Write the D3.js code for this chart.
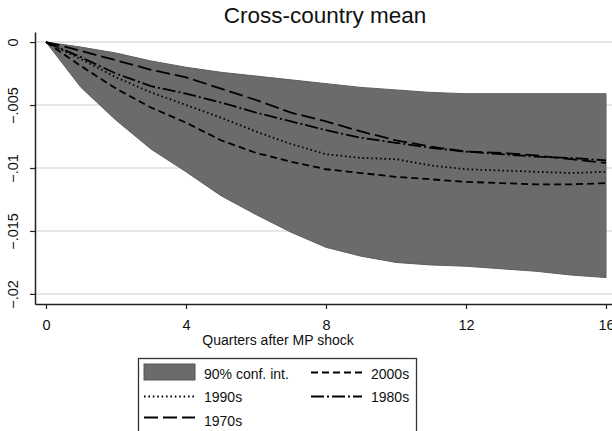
<!DOCTYPE html>
<html>
<head>
<meta charset="utf-8">
<script src="https://cdn.jsdelivr.net/npm/d3@7"></script>
<style>
  body { margin: 0; background: #fff; }
  text { font-family: Arial, "Liberation Sans", sans-serif; fill: #111; }
</style>
</head>
<body>
<div id="chart"></div>
<script>
// quarters after the shock
const quarters = [0,1,2,3,4,5,6,7,8,9,10,11,12,13,14,15,16];

// 90% confidence band of the cross-country mean
const ciUpper = [0,-0.0004,-0.00087,-0.0015,-0.002,-0.0024,-0.0027,-0.003,-0.0033,-0.0036,-0.0038,-0.0040,-0.0041,-0.0041,-0.0041,-0.0041,-0.0041];
const ciLower = [0,-0.0036,-0.0062,-0.0085,-0.0103,-0.0122,-0.0137,-0.0151,-0.0163,-0.0170,-0.0175,-0.0177,-0.0178,-0.0180,-0.0182,-0.0185,-0.0187];

// decade responses
const s1970s = [0,-0.0007,-0.00145,-0.0022,-0.0028,-0.0037,-0.0046,-0.0056,-0.0063,-0.0071,-0.0078,-0.0083,-0.0087,-0.0088,-0.0090,-0.0093,-0.0096];
const s1980s = [0,-0.0012,-0.0025,-0.0035,-0.0041,-0.0048,-0.0056,-0.0063,-0.0070,-0.0076,-0.0080,-0.0084,-0.0087,-0.0089,-0.0091,-0.0092,-0.0094];
const s1990s = [0,-0.00135,-0.0028,-0.0040,-0.0050,-0.0060,-0.0071,-0.0081,-0.0089,-0.0092,-0.0093,-0.0098,-0.0101,-0.0102,-0.0103,-0.0104,-0.0103];
const s2000s = [0,-0.0019,-0.0037,-0.0052,-0.0064,-0.0078,-0.0088,-0.0095,-0.0101,-0.0104,-0.0107,-0.0109,-0.0111,-0.0112,-0.0113,-0.0113,-0.0112];

const yTicks = [0,-0.005,-0.01,-0.015,-0.02];
const xTicks = [0,4,8,12,16];

const width = 612, height = 431;

const svg = d3.select("#chart").append("svg")
  .attr("width", width)
  .attr("height", height);

const x = d3.scaleLinear().domain([-0.3143, 17]).range([35, 641]);
const y = d3.scaleLinear().domain([0.0008, -0.0208]).range([32, 304]);

// title
svg.append("text")
  .attr("x", 325).attr("y", 23)
  .attr("text-anchor", "middle")
  .style("font-size", "22.5px")
  .text("Cross-country mean");

// gridlines
svg.append("g")
  .selectAll("line")
  .data(yTicks)
  .join("line")
  .attr("x1", 35).attr("x2", width)
  .attr("y1", d => y(d)).attr("y2", d => y(d))
  .attr("stroke", "#dedede")
  .attr("stroke-width", 1.5);

// confidence band
const band = quarters.map((q, i) => ({q: q, lo: ciLower[i], hi: ciUpper[i]}));
svg.append("path")
  .datum(band)
  .attr("d", d3.area().x(d => x(d.q)).y0(d => y(d.lo)).y1(d => y(d.hi)))
  .attr("fill", "#6b6b6b")
  .attr("stroke", "#5e5e5e")
  .attr("stroke-width", 1);

const series = [
  {name: "2000s", vals: s2000s, dash: "7,4"},
  {name: "1990s", vals: s1990s, dash: "1.6,2.8"},
  {name: "1980s", vals: s1980s, dash: "13,3,2,3"},
  {name: "1970s", vals: s1970s, dash: "14,5"}
];

const line = d3.line().x((d, i) => x(quarters[i])).y(d => y(d));

svg.append("g")
  .selectAll("path")
  .data(series)
  .join("path")
  .attr("d", d => line(d.vals))
  .attr("fill", "none")
  .attr("stroke", "#000")
  .attr("stroke-width", 1.8)
  .attr("stroke-dasharray", d => d.dash);

// y axis
const yAxis = svg.append("g")
  .attr("transform", "translate(35,0)")
  .call(d3.axisLeft(y).tickValues(yTicks).tickSize(5).tickSizeOuter(0)
    .tickFormat(d => d === 0 ? "0" : d3.format(".3~f")(d).replace("0.", ".")));
yAxis.select(".domain").attr("stroke", "#222").attr("stroke-width", 1.5);
yAxis.selectAll(".tick line").attr("stroke", "#222").attr("stroke-width", 1.2);
yAxis.selectAll(".tick text")
  .attr("transform", "rotate(-90)")
  .attr("x", 0).attr("y", -17).attr("dy", 0)
  .attr("text-anchor", "middle")
  .style("font-size", "14.5px")
  .style("font-family", "Arial, 'Liberation Sans', sans-serif")
  .attr("fill", "#111");

// x axis
const xAxis = svg.append("g")
  .attr("transform", "translate(0,304)")
  .call(d3.axisBottom(x).tickValues(xTicks).tickSize(5).tickSizeOuter(0));
xAxis.select(".domain").attr("stroke", "#222").attr("stroke-width", 1.5);
xAxis.selectAll(".tick line").attr("stroke", "#222").attr("stroke-width", 1.2);
xAxis.selectAll(".tick text")
  .attr("y", 26).attr("dy", 0)
  .style("font-size", "14.5px")
  .style("font-family", "Arial, 'Liberation Sans', sans-serif")
  .attr("fill", "#111");

svg.append("text")
  .attr("x", 278).attr("y", 345)
  .attr("text-anchor", "middle")
  .style("font-size", "14px")
  .text("Quarters after MP shock");

// legend
const legend = svg.append("g");
legend.append("rect")
  .attr("x", 138.5).attr("y", 358.5)
  .attr("width", 278).attr("height", 90)
  .attr("fill", "#fff")
  .attr("stroke", "#333")
  .attr("stroke-width", 1.3);

legend.append("rect")
  .attr("x", 144).attr("y", 364)
  .attr("width", 51).attr("height", 16)
  .attr("fill", "#6b6b6b")
  .attr("stroke", "#555")
  .attr("stroke-width", 1);
legend.append("text")
  .attr("x", 204).attr("y", 379)
  .style("font-size", "14px")
  .text("90% conf. int.");

const legendItems = [
  {s: series[0], kx: 311, ky: 372.5, tx: 371, ty: 379},
  {s: series[1], kx: 144, ky: 396.5, tx: 204, ty: 402},
  {s: series[2], kx: 311, ky: 396.5, tx: 371, ty: 402},
  {s: series[3], kx: 144, ky: 417.5, tx: 204, ty: 426}
];

const items = legend.selectAll("g.item")
  .data(legendItems)
  .join("g")
  .attr("class", "item");
items.append("line")
  .attr("x1", d => d.kx).attr("x2", d => d.kx + 51)
  .attr("y1", d => d.ky).attr("y2", d => d.ky)
  .attr("stroke", "#000")
  .attr("stroke-width", 1.8)
  .attr("stroke-dasharray", d => d.s.dash);
items.append("text")
  .attr("x", d => d.tx).attr("y", d => d.ty)
  .style("font-size", "14px")
  .text(d => d.s.name);
</script>
</body>
</html>
